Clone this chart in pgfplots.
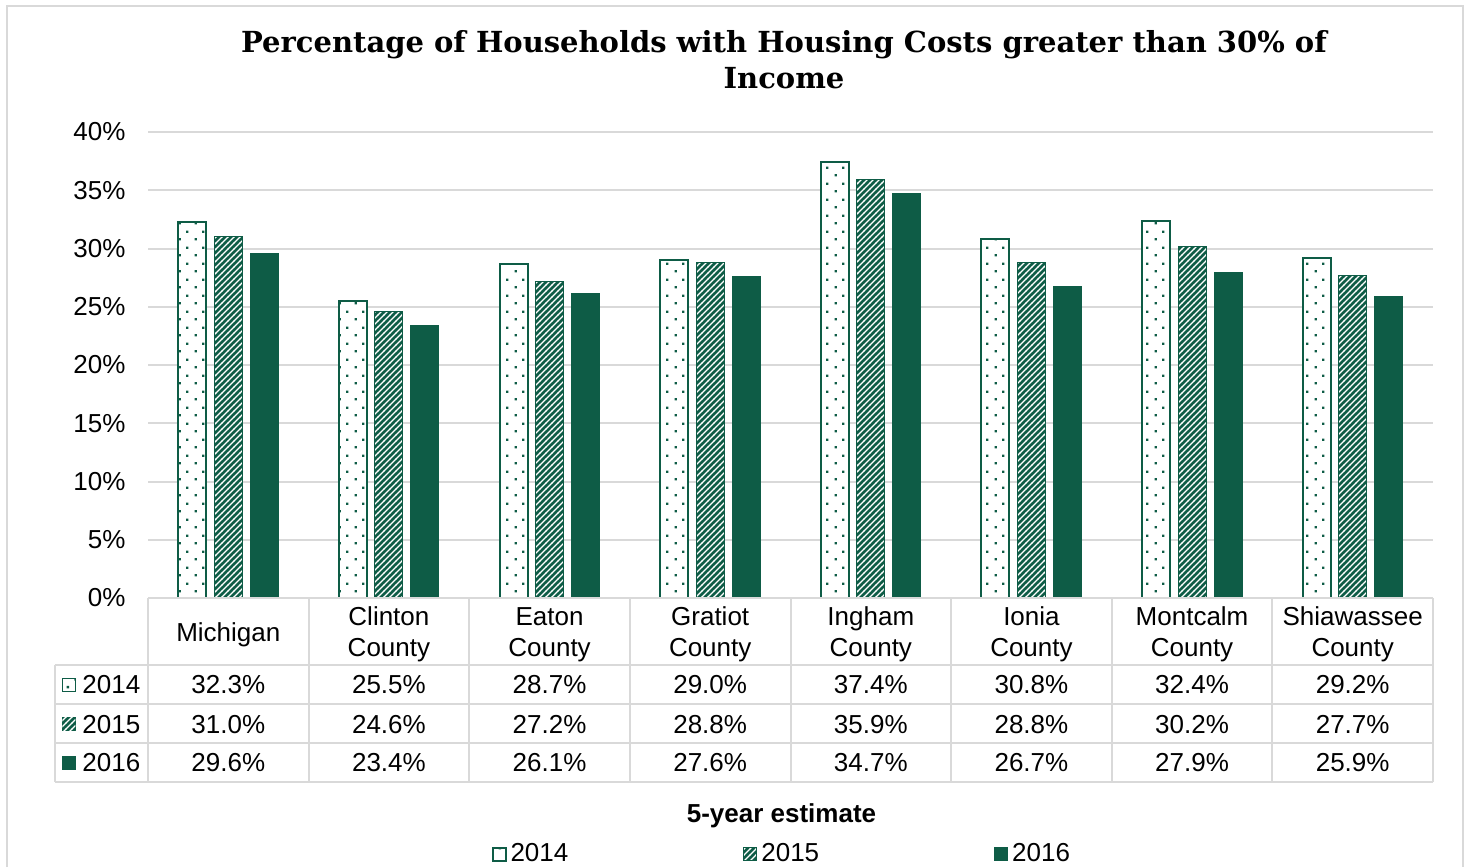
\documentclass[border=0pt]{standalone}
\usepackage{fontspec}
\setmainfont{Liberation Sans}
\newfontfamily\titlefont{DejaVu Serif}
\usepackage{pgfplots}
\usepackage{pgfplotstable}
\pgfplotsset{compat=1.18}
\usetikzlibrary{patterns}
\definecolor{dg}{RGB}{14,92,70}
\definecolor{gl}{RGB}{217,217,217}

\pgfdeclarepatternformonly{sparsedots}{\pgfqpoint{0pt}{0pt}}{\pgfqpoint{8pt}{8pt}}{\pgfqpoint{8pt}{8pt}}{%
  \pgfpathrectangle{\pgfqpoint{1.4pt}{1.4pt}}{\pgfqpoint{1.2pt}{1.2pt}}%
  \pgfpathrectangle{\pgfqpoint{5.4pt}{5.4pt}}{\pgfqpoint{1.2pt}{1.2pt}}%
  \pgfusepath{fill}}
\pgfdeclarepatternformonly{hatch}{\pgfqpoint{-1pt}{-1pt}}{\pgfqpoint{4pt}{4pt}}{\pgfqpoint{3pt}{3pt}}{%
  \pgfsetlinewidth{0.55pt}%
  \pgfpathmoveto{\pgfqpoint{-0.1pt}{-0.1pt}}%
  \pgfpathlineto{\pgfqpoint{3.1pt}{3.1pt}}%
  \pgfusepath{stroke}}

\pgfplotstableread{
idx y2014 y2015 y2016
0 32.3 31.0 29.6
1 25.5 24.6 23.4
2 28.7 27.2 26.1
3 29.0 28.8 27.6
4 37.4 35.9 34.7
5 30.8 28.8 26.7
6 32.4 30.2 27.9
7 29.2 27.7 25.9
}\data

\newcommand{\tf}{\fontsize{13}{15.5}\selectfont}

\begin{document}
\begin{tikzpicture}
\path[use as bounding box] (0pt,0pt) rectangle (733pt,-433.5pt);
\draw[gl, line width=1pt] (3.5pt,-433.5pt) -- (3.5pt,-3pt) -- (731.5pt,-3pt) -- (731.5pt,-433.5pt);
\node[font=\titlefont\bfseries\fontsize{14.5}{18}\selectfont, align=center] at (392pt,-30pt)
  {Percentage of Households with Housing Costs greater than 30\% of\\Income};

\begin{axis}[
  at={(74pt,-299pt)}, anchor=south west,
  scale only axis, width=642.5pt, height=233pt,
  xmin=-0.5, xmax=7.5, ymin=0, ymax=40,
  clip=false,
  axis line style={draw=none},
  major tick length=0pt,
  ymajorgrids, grid style={gl, line width=1pt},
  ytick={0,5,...,40},
  yticklabel={\pgfmathprintnumber{\tick}\%},
  yticklabel style={font=\tf, xshift=-7.7pt},
  xtick={0,...,7},
  xticklabels={Michigan,{Clinton\\County},{Eaton\\County},{Gratiot\\County},{Ingham\\County},{Ionia\\County},{Montcalm\\County},{Shiawassee\\County}},
  xticklabel style={anchor=center, yshift=-18.25pt, align=center, font=\tf},
  /pgf/number format/assume math mode=true,
  legend columns=3,
  legend style={at={(0.494,-0.55)}, anchor=center, draw=none, font=\tf,
    /tikz/every even column/.append style={column sep=85.5pt}},
  legend image code/.code={\draw[#1] (0pt,-3.25pt) rectangle (6.5pt,3.25pt);},
]
\addplot[ybar, bar width=0.174, bar shift=-0.224, draw=dg, line width=1pt, fill=white,
  postaction={pattern=sparsedots, pattern color=dg}] table[x=idx,y=y2014]{\data};
\addlegendentry{2014}
\addplot[ybar, bar width=0.174, bar shift=0, draw=dg, line width=0.5pt, fill=dg,
  postaction={pattern=hatch, pattern color=white}] table[x=idx,y=y2015]{\data};
\addlegendentry{2015}
\addplot[ybar, bar width=0.174, bar shift=0.224, draw=dg, line width=0.5pt, fill=dg] table[x=idx,y=y2016]{\data};
\addlegendentry{2016}

% data table values
\addplot[draw=none, mark=none, forget plot, point meta=\thisrow{y2014},
  nodes near coords={\pgfmathprintnumber[fixed,fixed zerofill,precision=1]{\pgfplotspointmeta}\%},
  every node near coord/.append style={anchor=center, font=\tf, inner sep=0pt}]
  table[x=idx, y expr=-7.47]{\data};
\addplot[draw=none, mark=none, forget plot, point meta=\thisrow{y2015},
  nodes near coords={\pgfmathprintnumber[fixed,fixed zerofill,precision=1]{\pgfplotspointmeta}\%},
  every node near coord/.append style={anchor=center, font=\tf, inner sep=0pt}]
  table[x=idx, y expr=-10.82]{\data};
\addplot[draw=none, mark=none, forget plot, point meta=\thisrow{y2016},
  nodes near coords={\pgfmathprintnumber[fixed,fixed zerofill,precision=1]{\pgfplotspointmeta}\%},
  every node near coord/.append style={anchor=center, font=\tf, inner sep=0pt}]
  table[x=idx, y expr=-14.16]{\data};

% table grid lines
\draw[gl, line width=1pt] (axis cs:-0.5,0) -- (axis cs:7.5,0);
\draw[gl, line width=1pt] (axis cs:-1.079,-5.751) -- (axis cs:7.5,-5.751);
\draw[gl, line width=1pt] (axis cs:-1.079,-9.099) -- (axis cs:7.5,-9.099);
\draw[gl, line width=1pt] (axis cs:-1.079,-12.446) -- (axis cs:7.5,-12.446);
\draw[gl, line width=1pt] (axis cs:-1.079,-15.794) -- (axis cs:7.5,-15.794);
\draw[gl, line width=1pt] (axis cs:-1.079,-5.751) -- (axis cs:-1.079,-15.794);
\pgfplotsinvokeforeach{-0.5,0.5,1.5,2.5,3.5,4.5,5.5,6.5,7.5}{
  \draw[gl, line width=1pt] (axis cs:#1,0) -- (axis cs:#1,-15.794);
}

% row labels
\draw[dg, line width=0.8pt, fill=white, postaction={pattern=sparsedots, pattern color=dg}]
  (axis cs:-0.992,-7.47) ++(-3.25pt,-3.25pt) rectangle ++(6.5pt,6.5pt);
\draw[dg, line width=0.5pt, fill=dg, postaction={pattern=hatch, pattern color=white}]
  (axis cs:-0.992,-10.82) ++(-3.25pt,-3.25pt) rectangle ++(6.5pt,6.5pt);
\draw[dg, line width=0.5pt, fill=dg]
  (axis cs:-0.992,-14.16) ++(-3.25pt,-3.25pt) rectangle ++(6.5pt,6.5pt);
\node[anchor=west, font=\tf, inner sep=0pt] at (axis cs:-0.911,-7.47) {2014};
\node[anchor=west, font=\tf, inner sep=0pt] at (axis cs:-0.911,-10.82) {2015};
\node[anchor=west, font=\tf, inner sep=0pt] at (axis cs:-0.911,-14.16) {2016};

\node[font=\tf\bfseries] at (axis cs:3.444,-18.7) {5-year estimate};
\end{axis}
\end{tikzpicture}
\end{document}
